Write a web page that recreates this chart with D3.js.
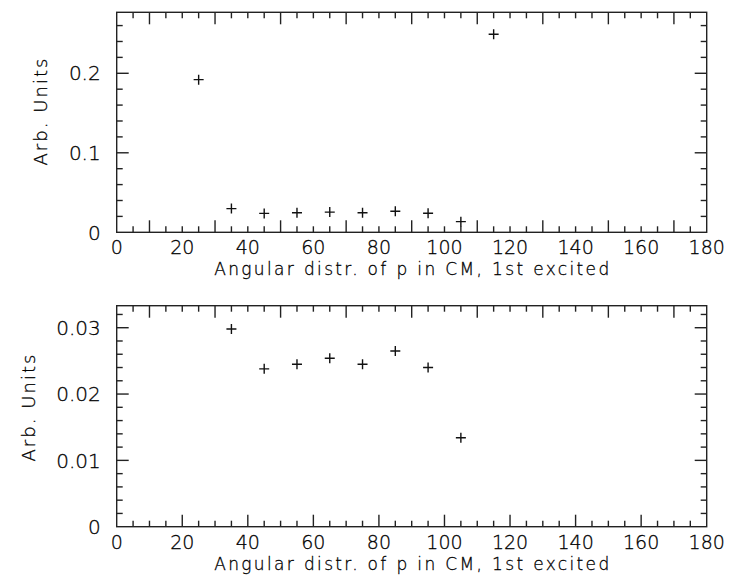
<!DOCTYPE html>
<html lang="en">
<head>
    <meta charset="UTF-8">
    <title>Angular distr. of p in CM, 1st excited</title>
    <style>
        body {
            margin: 0;
            background-color: #fff;
        }

        .frame {
            fill: none;
            stroke: #222;
            stroke-width: 1.4px;
        }

        .tick {
            stroke: #222;
            stroke-width: 1.4px;
        }

        .marker {
            fill: none;
            stroke: #111;
            stroke-width: 1.4px;
        }

        text {
            font-family: "DejaVu Sans", sans-serif;
            font-weight: 200;
            fill: #000;
            stroke: #000;
            stroke-width: 0.3px;
        }
    </style>
</head>
<body>
    <svg id="chart" width="731" height="579"></svg>

    <script src="https://d3js.org/d3.v7.min.js"></script>
    <script>
        // angle bins (degrees) and the distribution values
        const angles = [25, 35, 45, 55, 65, 75, 85, 95, 105, 115];
        const values = [0.192, 0.0298, 0.0238, 0.0245, 0.0254, 0.0245, 0.0265, 0.0240, 0.0134, 0.249];

        const xTicks = [0, 20, 40, 60, 80, 100, 120, 140, 160, 180];
        const yTicksTop = [0, 0.1, 0.2];
        const yTicksBottom = [0, 0.01, 0.02, 0.03];

        const xTitle = "Angular distr. of p in CM, 1st excited";
        const yTitle = "Arb. Units";

        const svg = d3.select("#chart");

        const x = d3.scaleLinear()
            .domain([0, 180])
            .range([116.7, 706.7]);

        const panels = [
            {
                top: 12.3, bottom: 232.3, yMax: 0.2767,
                yTicks: yTicksTop, yMinor: 0.02,
                fmt: d => d === 0 ? "0" : d3.format(".1f")(d),
                bottomLongFrom: 10, titleX: 47, titleY: 112
            },
            {
                top: 305.7, bottom: 526.7, yMax: 0.03332,
                yTicks: yTicksBottom, yMinor: 0.002,
                fmt: d => d === 0 ? "0" : d3.format(".2f")(d),
                bottomLongFrom: 20, titleX: 35, titleY: 408
            }
        ];

        const shortTick = 6, longTick = 12;

        panels.forEach(p => {
            const y = d3.scaleLinear()
                .domain([0, p.yMax])
                .range([p.bottom, p.top]);

            const g = svg.append("g");
            const x0 = x.range()[0], x1 = x.range()[1];

            // x ticks, every 5 degrees
            const xMinor = d3.range(5, 180, 5);
            xMinor.forEach(v => {
                const bottomLong = (v - p.bottomLongFrom) % 20 === 0;
                const topLong = (v - 10) % 20 === 0;
                g.append("line").attr("class", "tick")
                    .attr("x1", x(v)).attr("x2", x(v))
                    .attr("y1", p.bottom).attr("y2", p.bottom - (bottomLong ? longTick : shortTick));
                g.append("line").attr("class", "tick")
                    .attr("x1", x(v)).attr("x2", x(v))
                    .attr("y1", p.top).attr("y2", p.top + (topLong ? longTick : shortTick));
            });

            // y ticks
            const nMinor = Math.floor(p.yMax / p.yMinor + 1e-6);
            d3.range(1, nMinor + 1).forEach(i => {
                const v = i * p.yMinor;
                const isMajor = p.yTicks.some(t => Math.abs(t - v) < 1e-9);
                const len = isMajor ? longTick : shortTick;
                g.append("line").attr("class", "tick")
                    .attr("x1", x0).attr("x2", x0 + len)
                    .attr("y1", y(v)).attr("y2", y(v));
                g.append("line").attr("class", "tick")
                    .attr("x1", x1).attr("x2", x1 - len)
                    .attr("y1", y(v)).attr("y2", y(v));
            });

            g.append("rect").attr("class", "frame")
                .attr("x", x0).attr("y", p.top)
                .attr("width", x1 - x0).attr("height", p.bottom - p.top);

            // tick labels
            g.selectAll(".xlab")
                .data(xTicks)
                .enter()
                .append("text")
                .attr("x", d => x(d))
                .attr("y", p.bottom + 22)
                .attr("text-anchor", "middle")
                .style("font-size", "19px")
                .text(d => d);

            g.selectAll(".ylab")
                .data(p.yTicks)
                .enter()
                .append("text")
                .attr("x", x0 - 16)
                .attr("y", d => y(d))
                .attr("dy", "0.36em")
                .attr("text-anchor", "end")
                .style("font-size", "20px")
                .text(p.fmt);

            // axis titles
            g.append("text")
                .attr("x", (x0 + x1) / 2)
                .attr("y", p.bottom + 43)
                .attr("text-anchor", "middle")
                .attr("textLength", 395)
                .attr("lengthAdjust", "spacing")
                .style("font-size", "17px")
                .text(xTitle);

            g.append("text")
                .attr("transform", `translate(${p.titleX},${p.titleY}) rotate(-90)`)
                .attr("text-anchor", "middle")
                .attr("textLength", 107)
                .attr("lengthAdjust", "spacing")
                .style("font-size", "18px")
                .text(yTitle);

            // data markers, points outside the y range are not drawn
            const pts = angles.map((a, i) => ({ a: a, v: values[i] }))
                .filter(d => d.v <= p.yMax);

            g.selectAll(".marker")
                .data(pts)
                .enter()
                .append("path")
                .attr("class", "marker")
                .attr("transform", d => `translate(${x(d.a)},${y(d.v)})`)
                .attr("d", "M-5,0H5M0,-5V5");
        });
    </script>
</body>
</html>
